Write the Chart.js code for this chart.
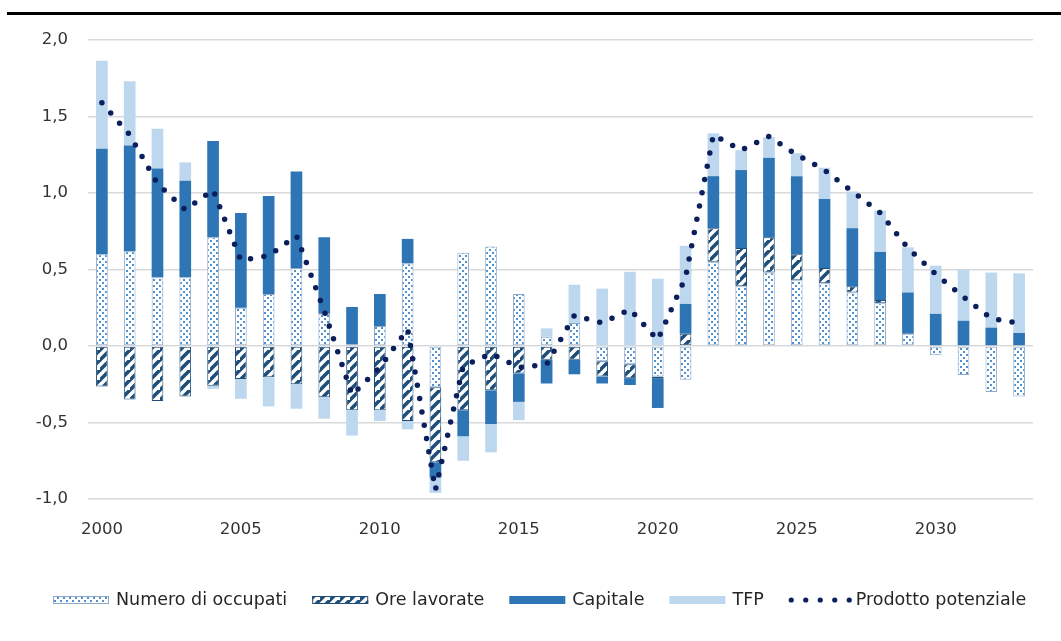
<!DOCTYPE html>
<html>
<head>
<meta charset="utf-8">
<script src="https://cdn.jsdelivr.net/npm/chart.js@4.4.1/dist/chart.umd.min.js"></script>
<style>
  html, body { margin: 0; padding: 0; background: #ffffff; }
  #wrap { position: relative; width: 1061px; height: 641px; }
  canvas { display: block; }
</style>
</head>
<body>
<div id="wrap"><canvas id="c" width="1061" height="641"></canvas></div>
<script>
// ---- Data ----
const years = [2000,2001,2002,2003,2004,2005,2006,2007,2008,2009,2010,2011,2012,2013,2014,2015,2016,
               2017,2018,2019,2020,2021,2022,2023,2024,2025,2026,2027,2028,2029,2030,2031,2032,2033];
const numeroOccupati = [0.60,0.62,0.45,0.45,0.71,0.25,0.34,0.51,0.21,0.01,0.13,0.54,-0.27,0.61,0.65,0.34,0.06,
                        0.15,-0.10,-0.12,-0.20,-0.22,0.55,0.39,0.48,0.43,0.41,0.35,0.28,0.08,-0.06,-0.19,-0.30,-0.33];
const oreLavorate = [-0.265,-0.35,-0.36,-0.33,-0.26,-0.215,-0.205,-0.25,-0.335,-0.42,-0.42,-0.49,-0.49,-0.42,-0.29,-0.18,-0.09,
                     -0.09,-0.10,-0.09,-0.01,0.08,0.22,0.25,0.23,0.17,0.10,0.04,0.02,0,0,0,0,0];
const capitale = [0.69,0.69,0.71,0.63,0.63,0.62,0.64,0.63,0.50,0.245,0.21,0.16,-0.10,-0.17,-0.22,-0.185,-0.155,
                  -0.095,-0.045,-0.045,-0.195,0.195,0.34,0.51,0.52,0.51,0.45,0.38,0.315,0.27,0.21,0.165,0.12,0.085];
const tfp = [0.575,0.42,0.26,0.12,-0.02,-0.13,-0.19,-0.16,-0.14,-0.165,-0.07,-0.055,-0.10,-0.16,-0.185,-0.12,0.055,
             0.25,0.375,0.485,0.44,0.38,0.28,0.13,0.135,0.15,0.205,0.24,0.27,0.295,0.315,0.335,0.36,0.39];
const prodottoPotenziale = [1.59,1.38,1.06,0.89,1.02,0.56,0.59,0.72,0.23,-0.32,-0.14,0.11,-0.94,-0.13,-0.05,-0.14,-0.12,
                            0.20,0.15,0.24,0.04,0.45,1.38,1.28,1.37,1.25,1.15,1.01,0.87,0.64,0.47,0.32,0.18,0.15];
const seriesNames = ['Numero di occupati','Ore lavorate','Capitale','TFP','Prodotto potenziale'];
const yTicks = [-1.0,-0.5,0.0,0.5,1.0,1.5,2.0];

// ---- Styles ----
const FONT = 'DejaVu Sans';
const C_CAP = '#2e75b6', C_TFP = '#bdd7ee', C_LINE = '#0b1f5c', C_DOT = '#4f91d0', C_HATCH = '#1f4e79';

function dotPattern() {
  const c = document.createElement('canvas'); c.width = 6; c.height = 6;
  const g = c.getContext('2d');
  g.fillStyle = '#ffffff'; g.fillRect(0,0,6,6);
  g.fillStyle = C_DOT;
  g.fillRect(0,0,2,2); g.fillRect(3,3,2,2);
  return g.createPattern(c,'repeat');
}
function hatchPattern() {
  const s = 10;
  const c = document.createElement('canvas'); c.width = s; c.height = s;
  const g = c.getContext('2d');
  g.fillStyle = '#ffffff'; g.fillRect(0,0,s,s);
  g.strokeStyle = C_HATCH; g.lineWidth = 3.6; g.lineCap = 'square';
  g.beginPath();
  g.moveTo(0,s); g.lineTo(s,0);
  g.moveTo(-s,s); g.lineTo(0,0);
  g.moveTo(s,2*s); g.lineTo(2*s,s);
  g.stroke();
  return g.createPattern(c,'repeat');
}
const P_DOT = dotPattern(), P_HATCH = hatchPattern();

const legendPlugin = {
  id: 'customLegend',
  afterDraw(chart) {
    const ctx = chart.ctx;
    ctx.save();
    // top rule
    ctx.fillStyle = '#000000';
    ctx.fillRect(7, 12, 1054, 3);
    // legend
    ctx.font = '17.5px "' + FONT + '"';
    ctx.textBaseline = 'middle';
    const items = [
      {name: seriesNames[0], fill: P_DOT, stroke: '#8ea9c8', w: 56},
      {name: seriesNames[1], fill: P_HATCH, stroke: C_HATCH, w: 56},
      {name: seriesNames[2], fill: C_CAP, stroke: null, w: 56},
      {name: seriesNames[3], fill: C_TFP, stroke: null, w: 56},
      {name: seriesNames[4], line: true, w: 60}
    ];
    const yc = 600;
    let x = 53;
    items.forEach(it => {
      if (it.line) {
        ctx.fillStyle = C_LINE;
        for (let k = 0; k < 5; k++) {
          ctx.beginPath();
          ctx.arc(x + 2.5 + k * 14.5, yc, 2.6, 0, Math.PI * 2);
          ctx.fill();
        }
      } else {
        ctx.fillStyle = it.fill;
        ctx.fillRect(x, yc - 4, it.w, 8);
        if (it.stroke) {
          ctx.strokeStyle = it.stroke; ctx.lineWidth = 1;
          ctx.strokeRect(x + 0.5, yc - 3.5, it.w - 1, 7);
        }
      }
      x += it.w + 7;
      ctx.fillStyle = '#262626';
      ctx.fillText(it.name, x, yc);
      x += ctx.measureText(it.name).width + 25;
    });
    ctx.restore();
  }
};

const barCommon = { barPercentage: 0.42, categoryPercentage: 1.0, order: 1, borderSkipped: false };

new Chart(document.getElementById('c'), {
  data: {
    labels: years.map(String),
    datasets: [
      Object.assign({ type: 'bar', label: seriesNames[0], data: numeroOccupati, backgroundColor: P_DOT,
        borderColor: '#8ea9c8', borderWidth: 1 }, barCommon),
      Object.assign({ type: 'bar', label: seriesNames[1], data: oreLavorate, backgroundColor: P_HATCH,
        borderColor: C_HATCH, borderWidth: 1 }, barCommon),
      Object.assign({ type: 'bar', label: seriesNames[2], data: capitale, backgroundColor: C_CAP, borderWidth: 0 }, barCommon),
      Object.assign({ type: 'bar', label: seriesNames[3], data: tfp, backgroundColor: C_TFP, borderWidth: 0 }, barCommon),
      { type: 'line', label: seriesNames[4], data: prodottoPotenziale, borderColor: C_LINE, backgroundColor: C_LINE,
        borderWidth: 5.5, borderDash: [0, 13.5], borderCapStyle: 'round', pointRadius: 0, tension: 0, fill: false, order: 0 }
    ]
  },
  options: {
    responsive: false,
    animation: false,
    devicePixelRatio: 1,
    layout: { padding: { left: 0, right: 28, top: 40, bottom: 102 } },
    plugins: { legend: { display: false }, tooltip: { enabled: false } },
    scales: {
      x: {
        stacked: true,
        grid: { display: false, drawTicks: false },
        border: { display: false },
        afterFit: s => { s.height = 40; },
        ticks: {
          autoSkip: false, maxRotation: 0, minRotation: 0, padding: 21,
          color: '#333333', font: { family: FONT, size: 16.5 },
          callback: (v, i) => (years[i] % 5 === 0 ? String(years[i]) : '')
        }
      },
      y: {
        stacked: true,
        min: -1, max: 2,
        afterFit: s => { s.width = 88; },
        afterBuildTicks: s => { s.ticks = yTicks.map(v => ({ value: v })); },
        grid: { color: '#d9d9d9', lineWidth: 1.5, drawTicks: false },
        border: { display: false },
        ticks: {
          padding: 20, color: '#333333', font: { family: FONT, size: 16.5 },
          callback: v => v.toFixed(1).replace('.', ',')
        }
      }
    }
  },
  plugins: [legendPlugin]
});
</script>
</body>
</html>
